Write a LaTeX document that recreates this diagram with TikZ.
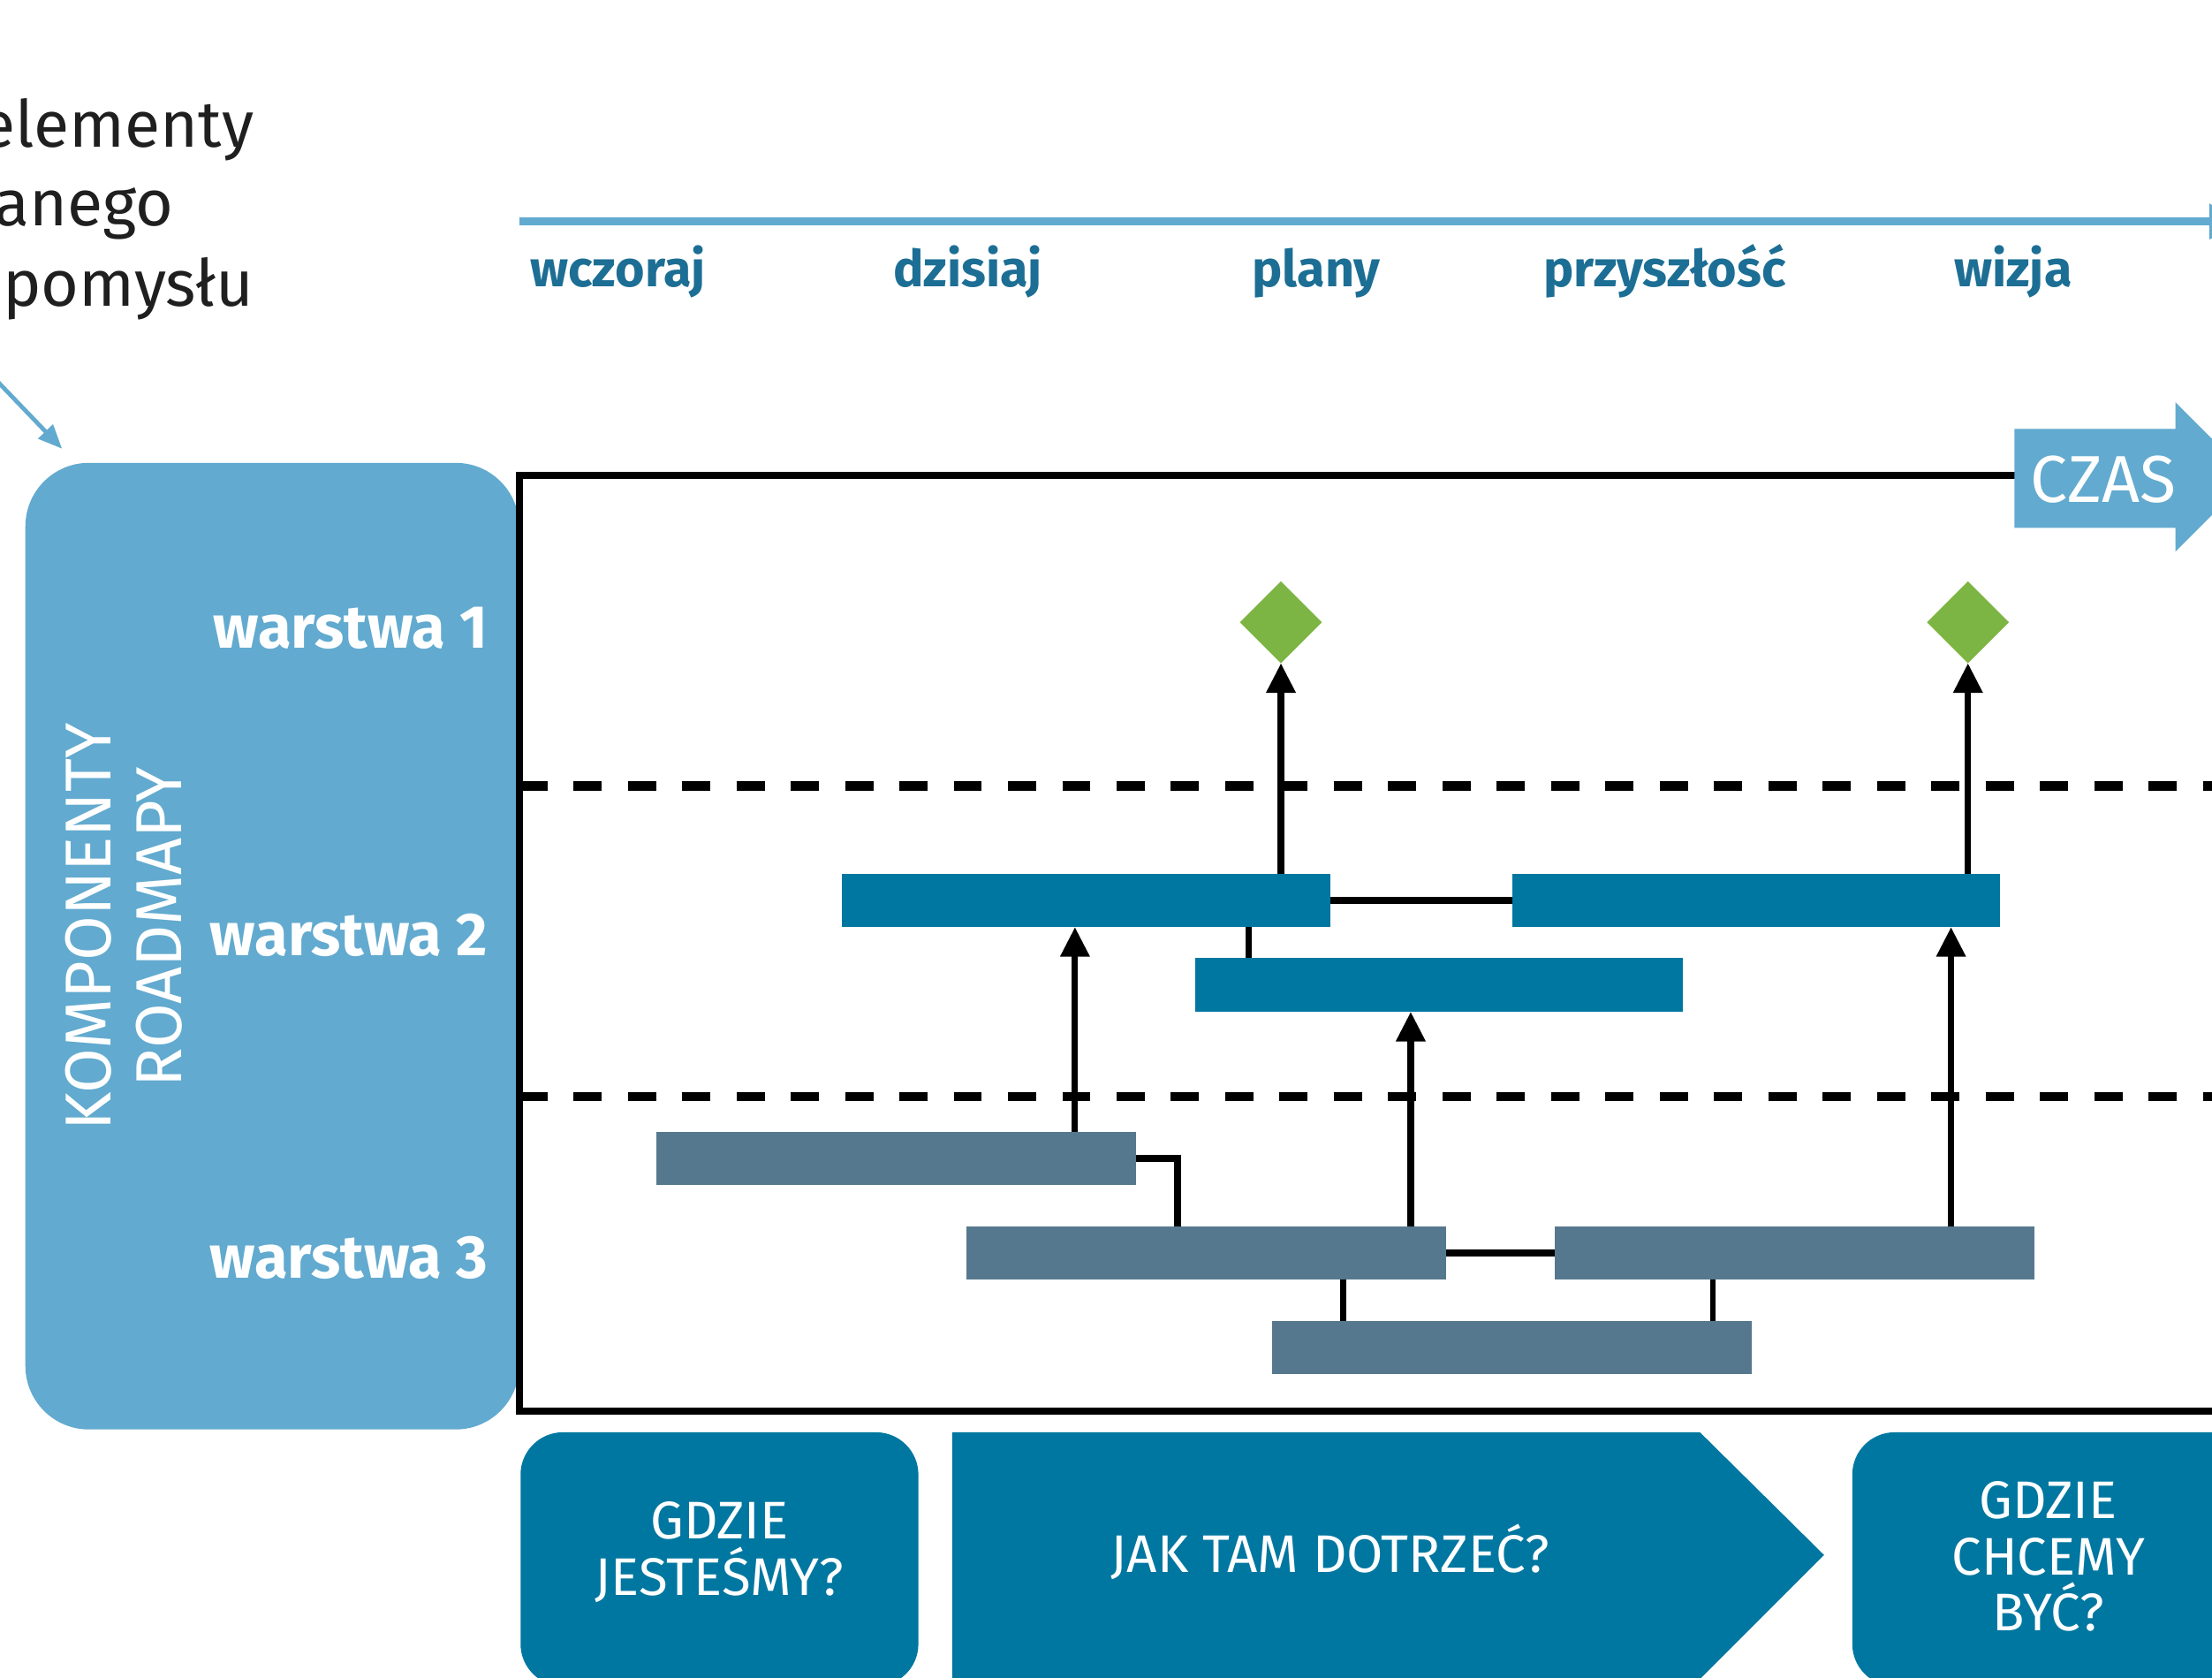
\documentclass[tikz,border=0pt]{standalone}
\usepackage{fontspec}
\setmainfont{Fira Sans}
\usetikzlibrary{arrows.meta,shapes.geometric}
\definecolor{skyblue}{RGB}{98,170,207}
\definecolor{labelblue}{RGB}{28,110,148}
\definecolor{deepteal}{RGB}{0,119,160}
\definecolor{barslate}{RGB}{86,120,142}
\definecolor{msgreen}{RGB}{125,181,68}
\begin{document}
\begin{tikzpicture}[x=1pt,y=-1pt,
  bar/.style={inner sep=0pt, outer sep=0pt, minimum height=38pt},
  toplayer/.style={bar, fill=deepteal, minimum width=346pt},
  lowlayer/.style={bar, fill=barslate, minimum width=340pt},
  milestone/.style={diamond, fill=msgreen, inner sep=0pt, outer sep=0pt, minimum width=58pt, minimum height=58pt},
  uparr/.style={draw=black, line width=4.5pt, -{Triangle[length=21pt,width=20pt]}},
  hlink/.style={draw=black, line width=5pt},
  vlink/.style={draw=black, line width=4pt},
  sepline/.style={draw=black, line width=6.5pt, dash pattern=on 20pt off 18.5pt},
  tl/.style={font=\fontsize{36}{42}\selectfont\bfseries, text=labelblue, anchor=base, inner sep=0pt},
  layer/.style={font=\fontsize{43}{50}\selectfont\bfseries, text=white, anchor=base east, inner sep=0pt},
  note/.style={font=\fontsize{46}{56}\selectfont, text=black!88, anchor=base east, inner sep=0pt},
  qtext/.style={font=\fontsize{37.5}{40}\selectfont, text=white, align=center, inner sep=0pt},
  panel/.style={inner sep=0pt, outer sep=0pt, anchor=north west},
]
\useasboundingbox (0,0) rectangle (1568,1189);
\clip (0,0) rectangle (1568,1189);

% top-left note
\node[note] (n1) at (180,104) {elementy};
\node[note] (n2) at (123,160) {anego};
\node[note] (n3) at (180,217) {/pomysłu};
\coordinate (ptrstart) at (-4,268);
\coordinate (ptrend) at (44,318);
\draw[skyblue, line width=3pt, -{Triangle[length=17pt,width=14pt]}] (ptrstart) -- (ptrend);

% timeline
\coordinate (tl0) at (368,157);
\coordinate (tl1) at (1590,157);
\draw[skyblue, line width=5.5pt, -{Triangle[length=24pt,width=24pt]}] (tl0) -- (tl1);
\node[tl] (w1) at (438,203) {wczoraj};
\node[tl] (w2) at (686,203) {dzisiaj};
\node[tl] (w3) at (933,203) {plany};
\node[tl] (w4) at (1180,203) {przyszłość};
\node[tl] (w5) at (1427,203) {wizja};

% left component panel
\node[panel, fill=skyblue, rounded corners=45pt, minimum width=350pt, minimum height=685pt] (comp) at (18,328) {};
\node[rotate=90, font=\fontsize{46}{50}\selectfont, text=white, align=center, inner sep=0pt] (kr) at (88,657) {KOMPONENTY\\ROADMAPY};
\node[layer] (l1) at (346,459) {warstwa 1};
\node[layer] (l2) at (346,677) {warstwa 2};
\node[layer] (l3) at (346,906) {warstwa 3};

% frame
\node[panel, draw=black, line width=5pt, minimum width=1252pt, minimum height=663pt] (frame) at (368,337) {};
\draw[sepline] (368,557) -- (1580,557);
\draw[sepline] (368,777) -- (1580,777);

% CZAS arrow
\fill[skyblue] (1428,304) -- (1542,304) -- (1542,285) -- (1595,338) -- (1542,391) -- (1542,374) -- (1428,374) -- cycle;
\node[font=\fontsize{47}{50}\selectfont, text=white, inner sep=0pt] (czas) at (1491,340) {CZAS};

% milestones
\node[milestone] (m1) at (908,441) {};
\node[milestone] (m2) at (1395,441) {};

% bars
\node[toplayer] (A) at (770,638) {};
\node[toplayer] (B) at (1245,638) {};
\node[toplayer] (C) at (1020,698) {};
\node[lowlayer] (D) at (635,821) {};
\node[lowlayer] (E) at (855,888) {};
\node[lowlayer] (F) at (1272,888) {};
\node[lowlayer] (G) at (1072,955) {};

% links
\draw[hlink] (A.east) -- (B.west);
\coordinate (ac) at ([xshift=115pt]A.south);
\draw[vlink] (ac) -- (ac |- C.north);
\coordinate (de) at ([xshift=-20pt]E.north);
\draw[line width=5pt] (D.east) -| (de);
\draw[hlink] (E.east) -- (F.west);
\coordinate (eg) at ([xshift=97pt]E.south);
\draw[vlink] (eg) -- (eg |- G.north);
\coordinate (fg) at ([xshift=-58pt]F.south);
\draw[vlink] (fg) -- (fg |- G.north);

% arrows
\coordinate (da) at ([xshift=127pt]D.north);
\draw[uparr] (da) -- (da |- A.south);
\coordinate (ec) at ([xshift=145pt]E.north);
\draw[uparr] (ec) -- (ec |- C.south);
\coordinate (fb) at ([xshift=111pt]F.north);
\draw[uparr] (fb) -- (fb |- B.south);
\coordinate (am) at ([xshift=138pt]A.north);
\draw[uparr] (am) -- (m1.south);
\coordinate (bm) at ([xshift=150pt]B.north);
\draw[uparr] (bm) -- (m2.south);

% bottom questions
\node[panel, fill=deepteal, rounded corners=30pt, minimum width=282pt, minimum height=180pt] (q1) at (369,1015) {};
\node[qtext] (q1t) at (510,1100) {GDZIE\\JESTEŚMY?};
\fill[deepteal] (675,1015) -- (1205,1015) -- (1293,1102) -- (1200,1195) -- (675,1195) -- cycle;
\node[qtext] (q2t) at (943,1100) {JAK TAM DOTRZEĆ?};
\node[panel, fill=deepteal, rounded corners=30pt, minimum width=300pt, minimum height=180pt] (q3) at (1313,1015) {};
\node[qtext] (q3t) at (1452,1103) {GDZIE\\CHCEMY\\BYĆ?};
\end{tikzpicture}
\end{document}
